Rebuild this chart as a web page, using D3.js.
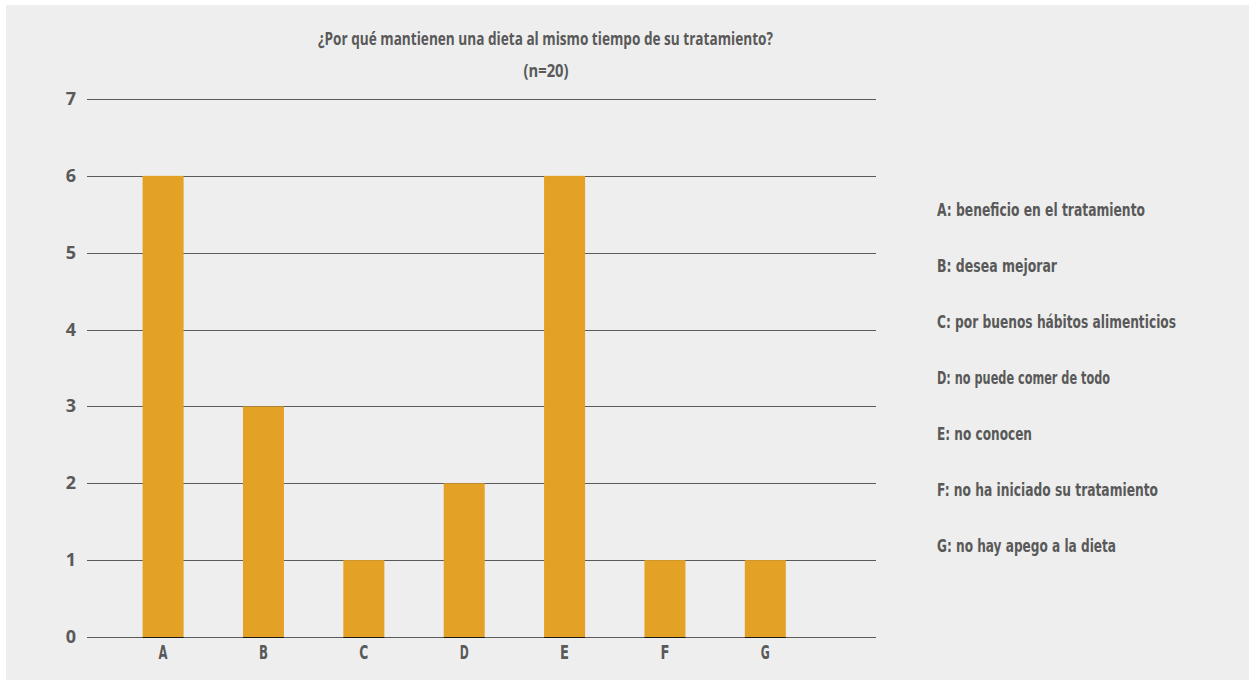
<!DOCTYPE html>
<html><head><meta charset="utf-8">
<script src="https://cdn.jsdelivr.net/npm/d3@7"></script>
<style>
html,body{margin:0;padding:0;background:#fff;}
svg{display:block;}
</style></head>
<body>
<svg id="chart" width="1249" height="680"></svg>
<script>
const categories = ["A","B","C","D","E","F","G"];
const values = [6,3,1,2,6,1,1];
const yTicks = [0,1,2,3,4,5,6,7];
const legendLabels = [
  "A: beneficio en el tratamiento",
  "B:  desea mejorar",
  "C: por buenos hábitos alimenticios",
  "D: no puede comer de todo",
  "E: no conocen",
  "F: no ha iniciado su tratamiento",
  "G: no hay apego a la dieta"
];
const legendWidths = [208,120,239,173,95,221,179];
const title = "¿Por qué mantienen una dieta al mismo tiempo de su tratamiento?";
const subtitle = "(n=20)";

const svg = d3.select("#chart");
const textColor = "#595959";
const condensed = "'Liberation Sans Narrow','DejaVu Sans Condensed',sans-serif";

svg.append("rect").attr("x",6).attr("y",5).attr("width",1243).attr("height",675).attr("fill","#eeeeee");

const x = d3.scaleBand().domain(categories).range([112.9, 815.5]).paddingInner(0.59).paddingOuter(0.295);
const y = d3.scaleLinear().domain([0,7]).range([637, 99]);

const gridX0 = 87, gridX1 = 876;

// gridlines
svg.append("g").selectAll("line").data(yTicks).join("line")
  .attr("x1",gridX0).attr("x2",gridX1)
  .attr("y1",d=>Math.round(y(d))+0.5).attr("y2",d=>Math.round(y(d))+0.5)
  .attr("stroke","#5a5a5a").attr("stroke-width",1);

// y tick labels
svg.append("g").selectAll("text").data(yTicks).join("text")
  .attr("x",76).attr("y",d=>y(d)+6)
  .attr("text-anchor","end")
  .attr("font-family","'Open Sans',sans-serif").attr("font-weight",700)
  .attr("font-size",18).attr("fill",textColor)
  .text(d=>d);

// bars
const bw = 41;
svg.append("g").selectAll("rect").data(values).join("rect")
  .attr("x",(d,i)=>x(categories[i])+x.bandwidth()/2-bw/2)
  .attr("width",bw)
  .attr("y",d=>y(d))
  .attr("height",d=>y(0)-y(d))
  .attr("fill","#e3a126");

// dark base under bars
svg.append("g").selectAll("line").data(values).join("line")
  .attr("x1",(d,i)=>x(categories[i])+x.bandwidth()/2-bw/2)
  .attr("x2",(d,i)=>x(categories[i])+x.bandwidth()/2+bw/2)
  .attr("y1",y(0)+0.5).attr("y2",y(0)+0.5)
  .attr("stroke","#1a1a1a").attr("stroke-width",1.2);

// x labels
svg.append("g").selectAll("text").data(categories).join("text")
  .attr("x",d=>x(d)+x.bandwidth()/2)
  .attr("y",659)
  .attr("text-anchor","middle")
  .attr("font-family",condensed).attr("font-weight",700)
  .attr("font-size",19).attr("fill",textColor)
  .attr("textLength",9).attr("lengthAdjust","spacingAndGlyphs")
  .text(d=>d);

// title
svg.append("text").attr("x",545.5).attr("y",45)
  .attr("text-anchor","middle")
  .attr("font-family","'Open Sans',sans-serif").attr("font-weight",700)
  .attr("font-size",18.5).attr("fill",textColor)
  .attr("textLength",455).attr("lengthAdjust","spacingAndGlyphs")
  .text(title);
svg.append("text").attr("x",546).attr("y",77)
  .attr("text-anchor","middle")
  .attr("font-family","'Open Sans',sans-serif").attr("font-weight",700)
  .attr("font-size",18.5).attr("fill",textColor)
  .attr("textLength",45).attr("lengthAdjust","spacingAndGlyphs")
  .text(subtitle);

// legend
svg.append("g").selectAll("text").data(legendLabels).join("text")
  .attr("x",937).attr("y",(d,i)=>216+i*56)
  .attr("font-family",condensed).attr("font-weight",700)
  .attr("font-size",18).attr("fill",textColor)
  .attr("textLength",(d,i)=>legendWidths[i]).attr("lengthAdjust","spacingAndGlyphs")
  .text(d=>d);
</script>
</body></html>
